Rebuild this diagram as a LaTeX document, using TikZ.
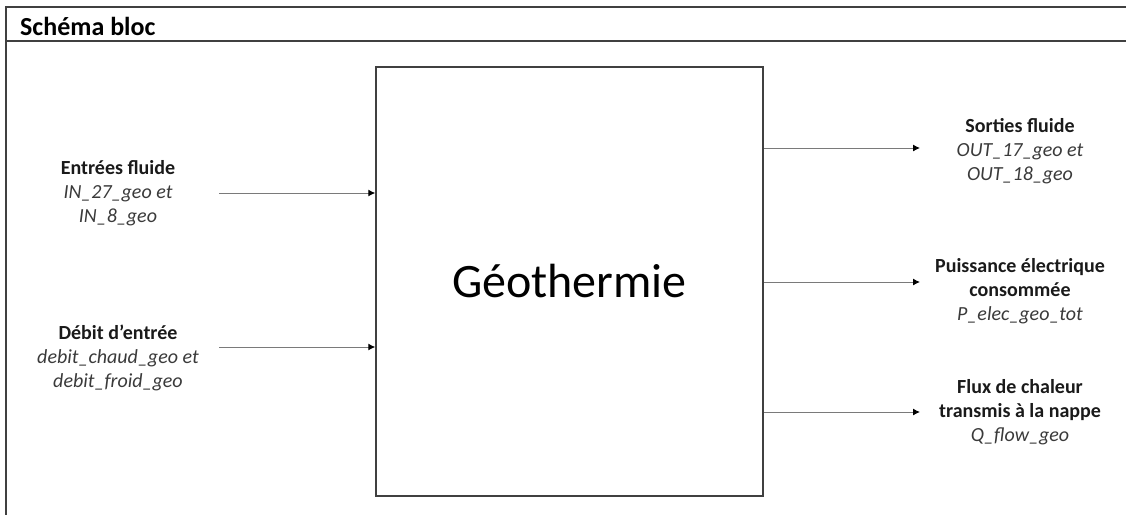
\documentclass[tikz,border=0pt]{standalone}
\usepackage{fontspec}
\setmainfont{Carlito}
\usetikzlibrary{arrows.meta}
\definecolor{geoFrame}{HTML}{404040}
\definecolor{geoLine}{HTML}{7a7a7a}
\definecolor{geoText}{HTML}{1a1a1a}
\definecolor{geoVar}{HTML}{3a3a3a}
\tikzset{
  >={Latex[length=7pt,width=7pt,color=black]},
  frame/.style={draw=geoFrame, line width=1.5pt},
  block/.style={draw=geoFrame, line width=1.5pt, minimum width=387pt,
              minimum height=429pt, inner sep=0pt, font=\fontsize{48}{52}\selectfont},
  lbl/.style={align=center, inner sep=0pt, text=geoText,
              font=\fontsize{20}{24}\selectfont},
  title/.style={anchor=west, inner sep=0pt, font=\fontsize{26}{30}\selectfont\bfseries},
  flow/.style={->, draw=geoLine, line width=1pt},
}
\newcommand{\var}[1]{{\color{geoVar}\itshape #1}}

\begin{document}
\begin{tikzpicture}[x=1pt,y=-1pt]
        \useasboundingbox (0,0) rectangle (1126,515);
        % header frame
        \draw[frame] (1126,7) -- (6,7) -- (6,515);
        \draw[frame] (6,41) -- (1126,41);
        \node[title] (head) at (20,26) {Schéma bloc};
        % main block
        \node[block] (geo) at (569.5,281.5) {Géothermie};
        % inputs
        \node[lbl] (inFluid) at (118,193)
          {\textbf{Entrées fluide}\\\var{IN\_27\_geo et}\\\var{IN\_8\_geo}};
        \node[lbl] (inDebit) at (118,358)
          {\textbf{Débit d’entrée}\\\var{debit\_chaud\_geo et}\\\var{debit\_froid\_geo}};
        \coordinate (a1) at (219,193);
        \coordinate (a2) at (219,347);
        \foreach \i in {1,2}{\draw[flow] (a\i) -- (geo.west |- a\i);}
        % outputs
        \node[lbl] (outFluid) at (1020,151)
          {\textbf{Sorties fluide}\\\var{OUT\_17\_geo et}\\\var{OUT\_18\_geo}};
        \node[lbl] (outElec) at (1020,291)
          {\textbf{Puissance électrique}\\\textbf{consommée}\\\var{P\_elec\_geo\_tot}};
        \node[lbl] (outHeat) at (1020,412)
          {\textbf{Flux de chaleur}\\\textbf{transmis à la nappe}\\\var{Q\_flow\_geo}};
        \coordinate (b1) at (920,148);
        \coordinate (b2) at (920,282);
        \coordinate (b3) at (920,412);
        \foreach \i in {1,2,3}{\draw[flow] (geo.east |- b\i) -- (b\i);}
      \end{tikzpicture}
\end{document}
